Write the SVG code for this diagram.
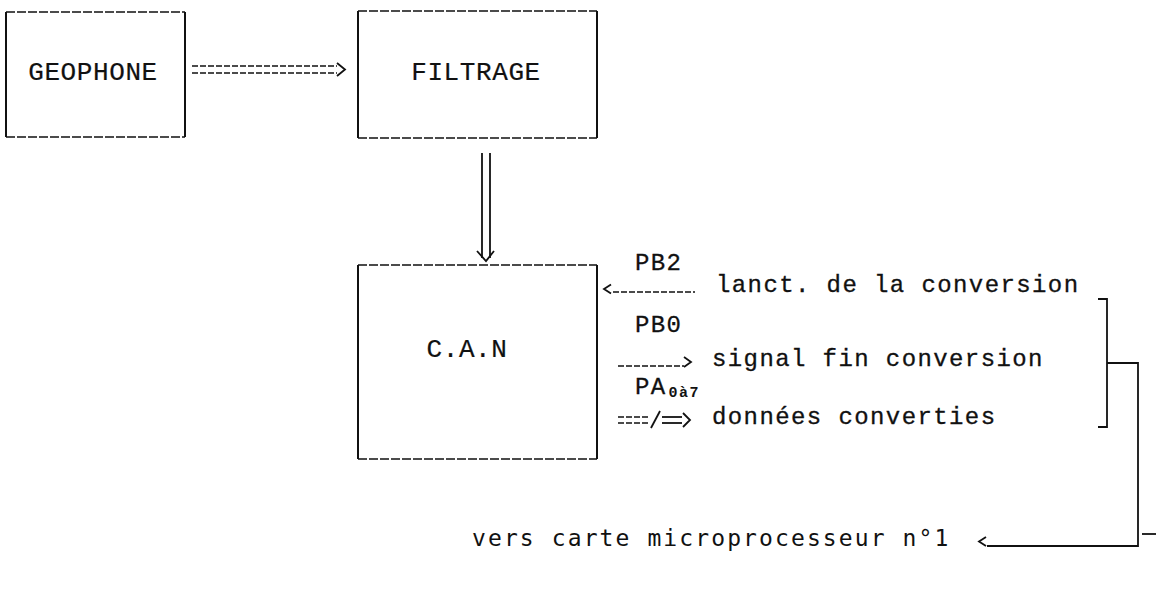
<svg xmlns="http://www.w3.org/2000/svg" width="1156" height="597" viewBox="0 0 1156 597">
<style>
.hb{stroke:#111;stroke-width:1.6;stroke-dasharray:9 2;fill:none}
.vb{stroke:#111;stroke-width:2;fill:none}
.ln{stroke:#111;stroke-width:1.8;fill:none}
.dl{stroke:#111;stroke-width:1.6;stroke-dasharray:6 2;fill:none}
.lbl{font-family:"Liberation Mono","DejaVu Sans Mono",monospace;font-size:26px;fill:#111;stroke:#111;stroke-width:0.2;text-anchor:middle;letter-spacing:0.6px}
.t{font-family:"Liberation Mono","DejaVu Sans Mono",monospace;font-size:24px;fill:#111;stroke:#111;stroke-width:0.3;letter-spacing:1.4px}
.s{font-family:"Liberation Mono","DejaVu Sans Mono",monospace;font-size:15px;fill:#111;font-weight:bold;stroke:none}
.b{font-family:"DejaVu Sans Mono","Liberation Mono",monospace;font-size:23px;fill:#111;letter-spacing:2.1px}
</style>
<rect width="1156" height="597" fill="#fff"/>
<g id="geophone">
<line class="hb" x1="6" y1="12" x2="185" y2="12"/>
<line class="hb" x1="6" y1="137" x2="185" y2="137"/>
<line class="vb" x1="6" y1="12" x2="6" y2="137"/>
<line class="vb" x1="185" y1="12" x2="185" y2="137"/>
<text class="lbl" x="93" y="80">GEOPHONE</text>
</g>
<g id="filtrage">
<line class="hb" x1="358" y1="11" x2="597" y2="11"/>
<line class="hb" x1="358" y1="138" x2="597" y2="138"/>
<line class="vb" x1="358" y1="11" x2="358" y2="138"/>
<line class="vb" x1="597" y1="11" x2="597" y2="138"/>
<text class="lbl" x="476" y="80">FILTRAGE</text>
</g>
<g id="can">
<line class="hb" x1="358" y1="265" x2="597" y2="265"/>
<line class="hb" x1="358" y1="459" x2="597" y2="459"/>
<line class="vb" x1="358" y1="265" x2="358" y2="459"/>
<line class="vb" x1="597" y1="265" x2="597" y2="459"/>
<text class="lbl" x="467" y="357">C.A.N</text>
</g>
<g id="connectors">
<line class="dl" x1="192" y1="66" x2="337" y2="66"/>
<line class="dl" x1="192" y1="73" x2="337" y2="73"/>
<polyline class="ln" points="337,63 345,69.5 337,76"/>
<line class="ln" x1="482" y1="153" x2="482" y2="258"/>
<line class="ln" x1="490" y1="153" x2="490" y2="258"/>
<polyline class="ln" points="477,251 486,261 494,251"/>
<polyline class="ln" points="611,284.5 604,289 611,293.5"/>
<line class="dl" x1="613" y1="292" x2="695" y2="292"/>
<line class="dl" x1="618" y1="366" x2="684" y2="366"/>
<polyline class="ln" points="684,357 691,362 684,367"/>
<line class="dl" x1="618" y1="417" x2="650" y2="417"/>
<line class="dl" x1="618" y1="423" x2="650" y2="423"/>
<line class="ln" x1="651" y1="428" x2="660" y2="411"/>
<line class="ln" x1="662" y1="417" x2="682" y2="417"/>
<line class="ln" x1="662" y1="423" x2="682" y2="423"/>
<polyline class="ln" points="683,413 690,420 683,427"/>
<polyline class="ln" points="1098,299 1107,299 1107,427 1098,427"/>
<polyline class="ln" points="1107,363 1138,363 1138,546 987,546"/>
<polyline class="ln" points="986,537 979,541.5 986,546"/>
<line class="ln" x1="1142" y1="534" x2="1156" y2="534"/>
</g>
<g id="labels">
<text class="t" x="635" y="270">PB2</text>
<text class="t" x="716" y="292">lanct. de la conversion</text>
<text class="t" x="635" y="332">PB0</text>
<text class="t" x="712" y="366">signal fin conversion</text>
<text class="t" x="635" y="394">PA<tspan class="s" dx="2" dy="3">0à7</tspan></text>
<text class="t" x="712" y="424">données converties</text>
<text class="b" x="472" y="546">vers carte microprocesseur n°1</text>
</g>
</svg>
